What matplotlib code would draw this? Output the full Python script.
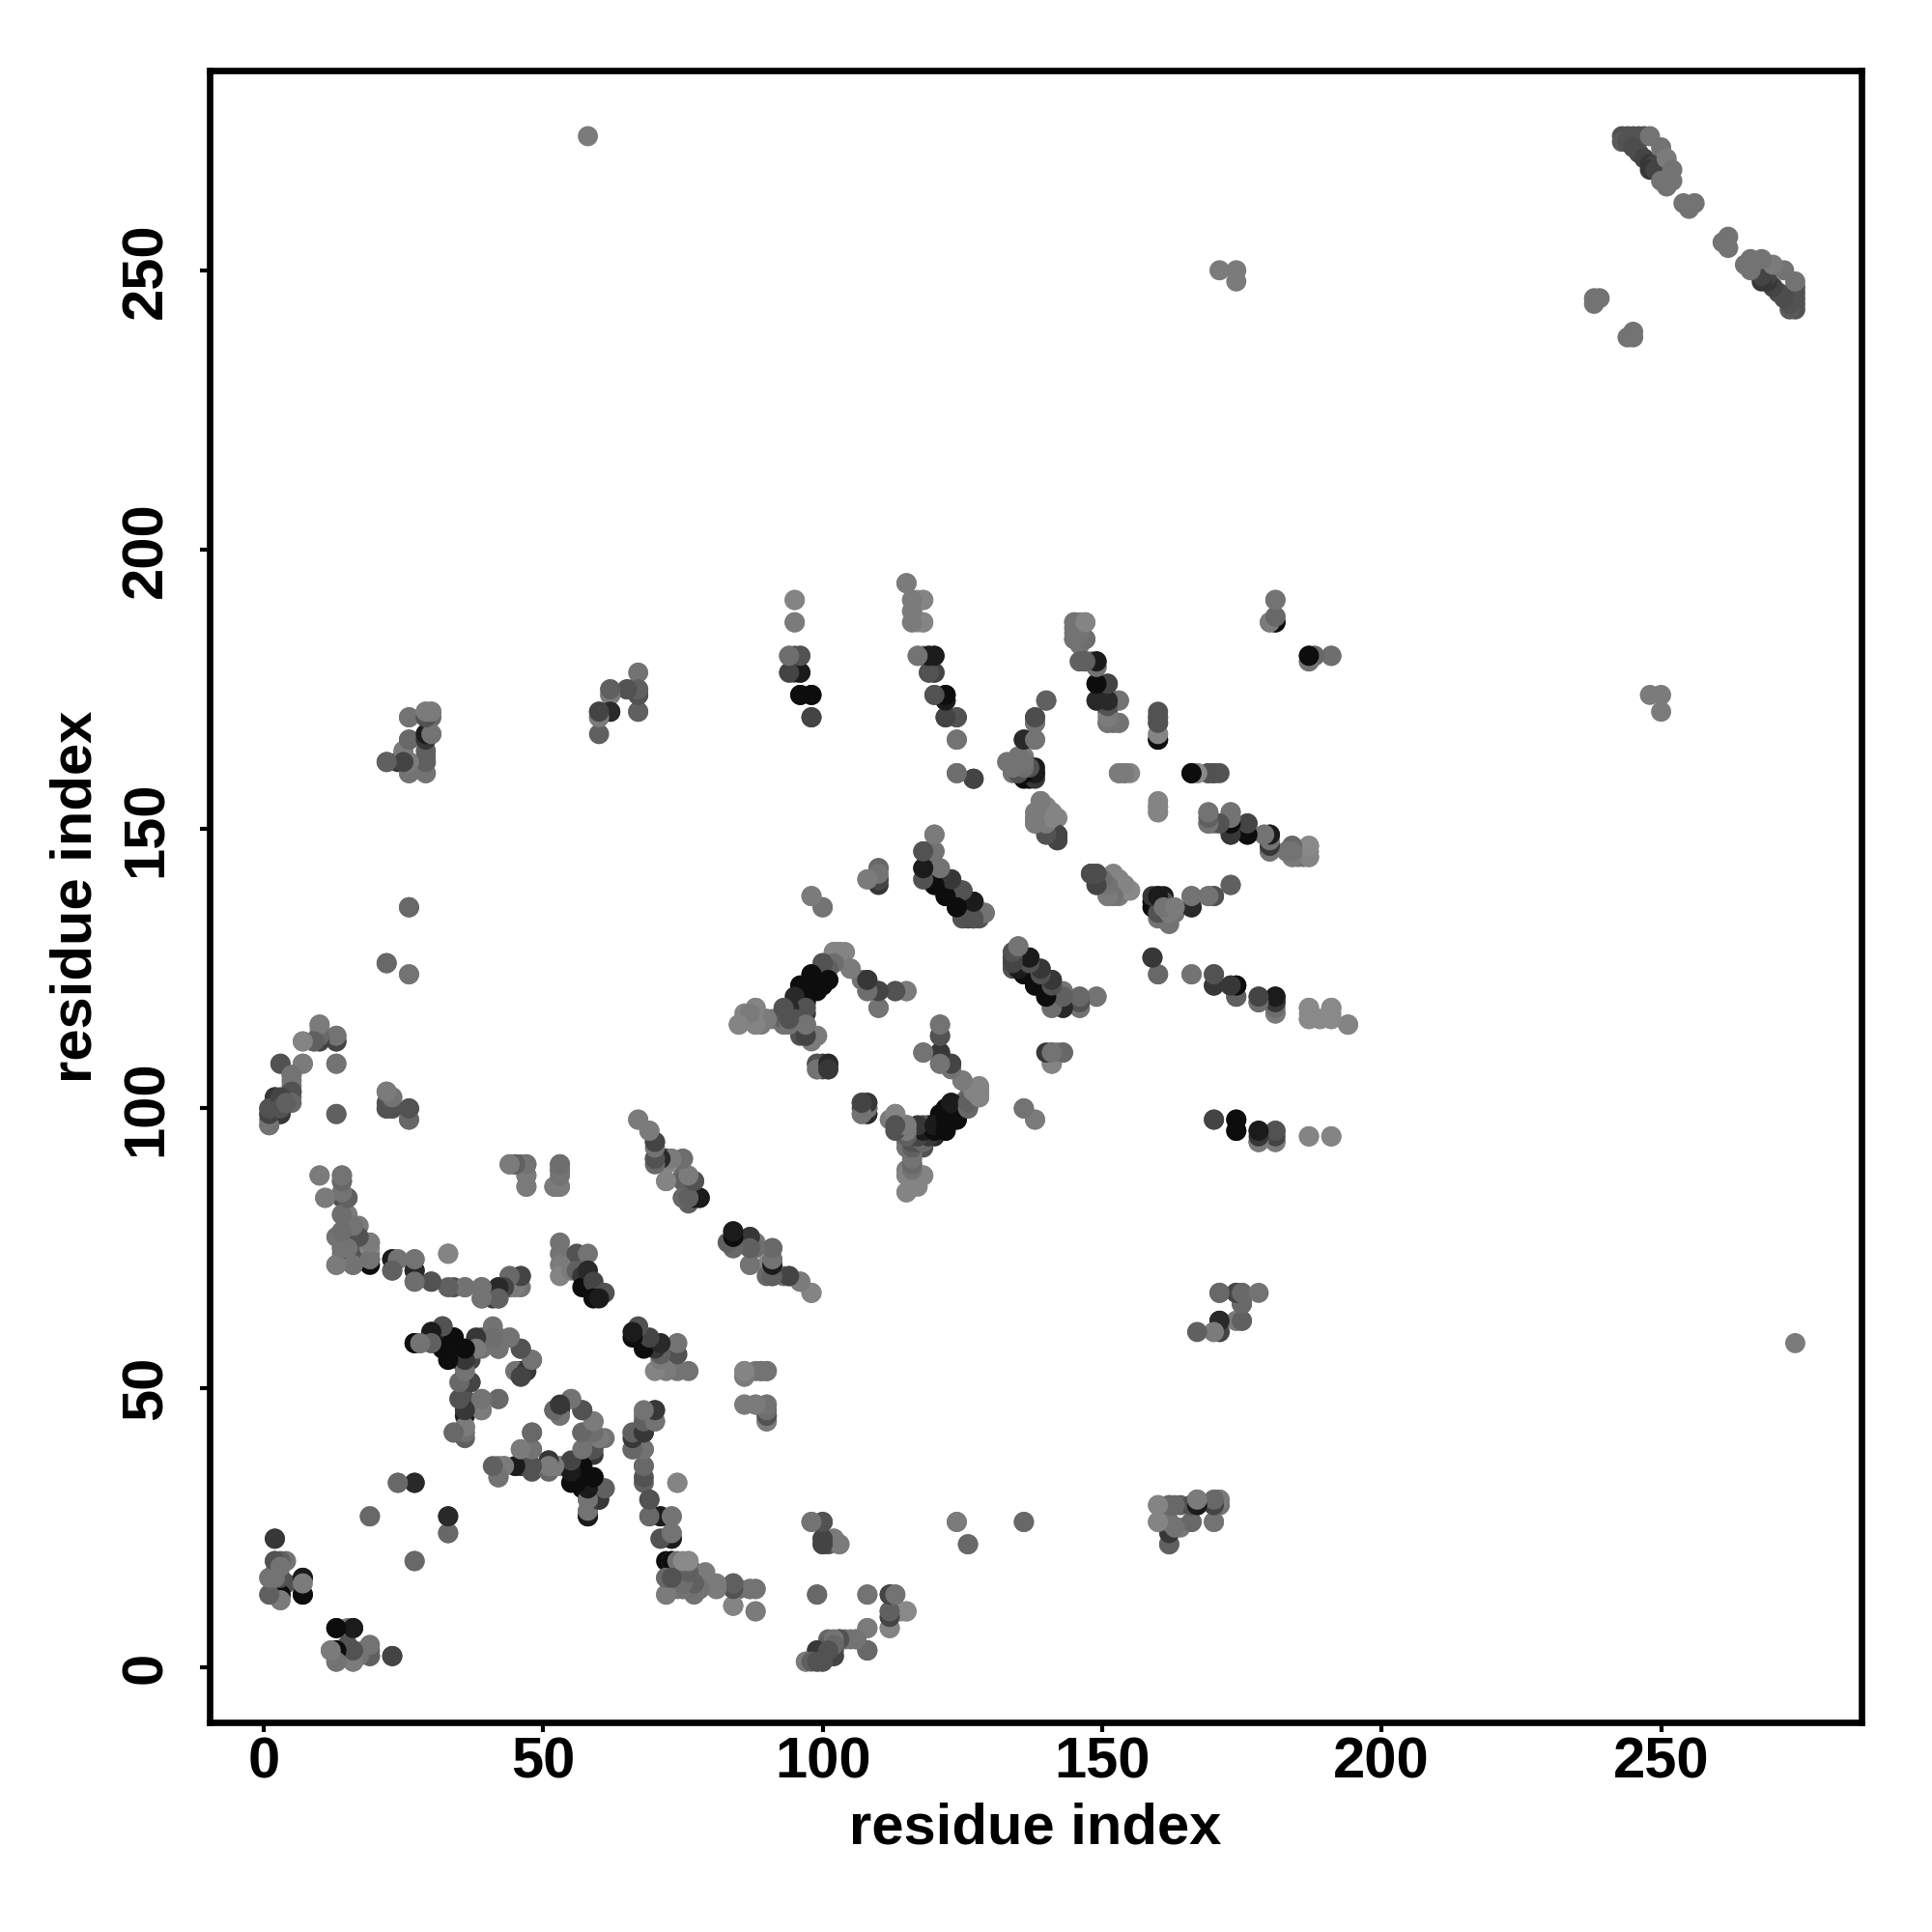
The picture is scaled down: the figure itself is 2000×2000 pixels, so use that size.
import matplotlib
matplotlib.use('Agg')
import matplotlib.pyplot as plt
import numpy as np

# contacts: (residue, residue, grey level)
far_end = [
    (243,274,.3),(244,274,.3),(245,274,.3),(246,274,.3),(247,274,.3),(243,273,.33),(244,273,.3),
    (245,272,.28),(246,271,.28),(247,270,.25),(248,269,.2),(249,269,.25),(248,268,.2),(249,268,.25),
    (248,274,.42),(250,272,.42),(251,270,.45),(252,268,.42),(252,266,.42),(251,265,.42),(250,266,.42),
    (254,262,.42),(256,262,.42),(255,261,.42),(238,244,.42),(238,245,.42),(239,245,.42),
    (171,250,.45),(174,250,.45),(174,248,.45),(58,274,.45),
]
upper_bands = [
    (95,191,.48),(95,187,.48),(115,194,.48),(116,191,.5),(117,191,.5),(118,191,.5),(116,187,.5),(117,187,.5),(118,187,.5),(116,189,.5),
    (94,181,.45),(95,181,.25),(96,181,.3),(94,178,.45),(95,178,.2),(96,178,.1),(96,174,.05),(98,174,.05),(98,170,.25),
    (117,181,.45),(118,181,.4),(119,181,.2),(120,181,.1),(119,178,.4),(120,178,.25),(120,174,.35),(122,174,.05),(122,173,.2),
    (122,170,.2),(124,170,.3),(124,166,.42),(124,160,.38),(127,159,.2),
    (140,173,.35),(138,170,.3),(138,169,.42),(136,166,.15),(138,166,.42),(134,161,.42),(134,160,.42),(136,159,.05),(137,159,.05),
    (135,160,.3),(137,161,.3),(138,159,.2),(138,160,.1),(135,162,.45),(136,161,.42),(136,163,.45),
    (139,155,.5),(140,154,.48),(141,153,.48),(142,152,.48),(138,152,.42),(138,151,.45),(140,151,.42),(141,150,.4),
    (140,149,.25),(142,149,.28),(142,148,.28),
    (145,187,.48),(146,187,.48),(147,187,.5),(145,184,.45),(147,184,.38),(146,184,.42),(146,183,.42),
    (146,180,.42),(147,180,.2),(148,180,.42),(149,180,.1),(149,179,.42),(149,176,.05),(151,176,.25),
    (149,173,.2),(151,173,.05),(152,173,.42),(153,173,.42),(151,171,.3),(151,169,.42),(152,169,.35),(153,169,.42),
    (153,160,.48),(154,160,.48),(155,160,.48),(160,170,.3),(160,169,.3),(160,167,.5),(160,166,.05),
    (166,160,.05),(167,160,.48),(169,160,.3),(170,160,.3),(171,160,.3),(160,154,.45),(160,153,.45),
    (169,153,.42),(169,151,.42),(170,151,.45),(173,153,.42),(173,152,.42),(172,151,.3),(173,151,.15),(173,149,.15),
    (176,151,.25),(176,149,.05),(179,149,.42),(180,149,.1),(180,147,.35),(180,146,.35),
    (184,147,.4),(185,146,.42),(184,145,.42),(185,145,.42),(186,145,.42),(187,145,.42),(187,147,.48),
    (181,191,.4),(181,188,.38),(180,187,.42),(181,187,.05),(187,181,.05),(187,180,.45),(188,181,.38),(191,181,.42),
]
middle_bands = [
    (98,138,.45),(100,136,.42),(108,141,.48),(110,140,.2),(110,143,.38),(110,141,.42),
    (120,149,.42),(118,146,.42),(119,146,.3),(120,146,.38),
    (118,143,.15),(120,142,.05),(121,141,.05),(122,138,.05),(123,139,.05),(124,136,.05),(125,135,.1),(127,135,.1),
    (118,141,.4),(120,143,.35),(120,140,.05),(122,141,.3),(123,141,.2),(124,139,.3),(125,139,.2),(126,137,.3),(127,137,.1),
    (126,134,.25),(127,134,.25),(128,134,.3),(129,135,.42),
    (148,142,.25),(149,142,.25),(149,140,.3),(151,140,.45),(152,141,.48),(153,141,.48),(154,140,.48),(155,139,.45),(151,138,.45),(153,138,.45),
    (160,138,.1),(161,138,.1),(160,136,.05),(160,135,.3),(161,137,.3),(161,136,.4),(162,136,.42),(162,135,.42),(163,135,.42),(162,133,.42),(161,134,.42),
    (166,136,.15),(166,138,.42),(169,138,.42),(170,138,.28),(173,140,.35),
]
loop_bands = [
    (85,115,.48),(87,116,.48),(88,118,.48),(88,115,.48),(86,117,.48),(89,116,.42),(90,116,.38),(91,116,.42),(92,116,.42),
    (93,115,.42),(93,116,.35),(94,116,.3),(94,117,.3),(94,118,.38),(95,119,.2),(95,117,.25),(96,118,.1),(96,120,.05),
    (97,117,.2),(97,120,.1),(98,122,.05),(96,122,.05),(98,124,.05),(100,122,.05),(101,123,.1),(95,115,.35),(96,115,.45),(97,115,.35),
    (96,113,.3),(98,112,.45),(100,126,.38),(101,126,.35),(102,128,.48),(103,128,.48),(104,128,.48),(103,127,.48),
    (105,125,.45),(107,123,.42),(108,123,.25),(110,121,.2),(108,121,.42),(113,121,.3),(115,121,.42),(110,118,.42),
    (97,115,.45),(99,113,.48),(97,113,.3),(99,108,.15),(100,108,.42),(101,108,.2),(99,107,.42),(101,107,.25),
    (107,100,.25),(108,100,.25),(108,99,.3),(107,99,.42),(108,101,.15),(107,101,.2),
    (121,115,.45),(121,113,.3),(118,110,.42),(121,110,.25),(121,108,.4),(123,108,.2),(125,105,.45),
    (127,103,.45),(128,103,.48),(127,102,.45),(128,102,.48),(126,102,.4),(125,101,.35),(126,100,.3),
    (123,101,.05),(124,98,.05),(121,99,.05),(122,96,.05),(119,97,.05),(120,95,.15),(118,97,.3),(118,94,.15),(116,95,.3),(118,93,.3),
    (113,99,.45),(113,97,.25),(115,97,.42),(115,94,.42),(116,94,.3),(116,90,.45),(115,89,.45),(115,88,.48),(118,88,.48),(117,87,.45),(115,85,.48),
    (135,129,.42),(134,127,.3),(134,125,.3),(137,127,.1),(139,125,.3),(136,124,.05),(138,122,.05),(141,123,.2),(140,120,.05),(143,121,.42),
    (141,118,.3),(143,118,.1),(146,120,.42),(146,118,.3),(149,120,.45),(141,110,.25),(143,110,.38),(142,110,.42),(141,108,.45),
    (136,100,.42),(138,98,.45),
    (159,127,.25),(160,124,.4),(166,124,.42),(170,124,.3),(170,122,.25),(173,122,.1),(174,122,.05),(174,120,.3),(178,120,.25),(178,119,.3),
    (181,120,.1),(181,119,.1),(181,117,.42),(187,118,.48),(187,116,.45),(191,118,.48),(191,116,.45),(189,116,.45),(194,115,.45),
    (170,98,.25),(174,98,.05),(174,96,.05),(178,96,.1),(178,94,.25),(181,96,.3),(181,94,.4),(187,95,.45),(191,95,.48),
]
left_column = [
    (26,170,.42),(29,171,.42),(30,171,.45),(29,170,.25),(30,170,.38),(26,166,.38),(29,166,.3),(29,167,.1),(30,167,.45),
    (22,162,.35),(24,162,.2),(25,163,.42),(26,162,.42),(29,163,.38),(29,162,.38),(26,160,.48),(29,160,.48),
    (26,136,.38),(22,126,.38),(26,124,.45),
    (10,115,.5),(10,114,.5),(7,112,.48),(9,112,.25),(10,112,.35),(13,112,.25),(13,113,.42),(3,108,.38),(7,108,.45),(13,108,.42),
    (5,106,.42),(5,105,.42),(5,103,.3),(5,102,.42),(2,102,.25),(4,102,.38),(1,100,.3),(3,99,.2),(1,97,.45),(1,98,.35),(3,101,.3),(1,99,.3),
    (13,99,.38),(22,103,.45),(23,102,.45),(22,100,.25),(23,100,.25),(26,100,.3),(26,98,.42),
    (62,174,.45),(62,175,.35),(65,175,.38),(66,175,.38),(67,174,.25),(67,175,.38),(67,178,.42),
    (60,171,.25),(62,171,.15),(60,170,.45),(60,167,.35),(67,171,.38),
    (171,67,.35),(174,67,.3),(175,67,.35),(175,65,.3),(174,62,.45),(175,62,.35),(171,62,.15),(170,60,.45),(171,60,.25),
]
lower_sheet = [
    (10,88,.45),(14,88,.42),(14,87,.42),(11,84,.48),(14,84,.3),(15,84,.35),(14,81,.45),(15,81,.45),(17,79,.45),
    (14,78,.42),(14,77,.42),(14,76,.4),(14,75,.42),(14,74,.42),(15,77,.35),(16,76,.35),(15,75,.4),(17,76,.35),
    (19,73,.05),(19,74,.42),(19,75,.5),(19,76,.5),(13,72,.45),(16,72,.38),(16,73,.3),
    (23,73,.1),(23,71,.3),(24,73,.42),(27,71,.1),(27,73,.42),(27,69,.38),(30,69,.3),(33,74,.48),
    (34,68,.3),(36,68,.38),(39,68,.42),(39,66,.38),(41,66,.2),(42,66,.35),(42,68,.2),(44,68,.35),(44,70,.42),(46,70,.2),(46,68,.42),
    (44,90,.45),(45,90,.3),(46,90,.4),(47,90,.42),(47,88,.45),(47,86,.45),(53,90,.42),(53,89,.42),(52,86,.45),(53,86,.48),
    (67,98,.48),(69,96,.45),(70,94,.25),(70,91,.35),(72,91,.1),(73,91,.42),(75,91,.38),(72,87,.42),(75,88,.4),(77,87,.2),(75,87,.35),
    (75,84,.38),(76,83,.35),(77,84,.05),(78,84,.1),
    (53,76,.42),(53,74,.42),(53,72,.45),(53,70,.48),(55,71,.45),(56,74,.3),(58,74,.42),(56,71,.35),(57,70,.2),(58,68,.05),(57,68,.05),
    (58,71,.15),(59,69,.25),(61,67,.3),(59,66,.05),(60,66,.1),
    (84,78,.1),(84,75,.38),(84,76,.35),(87,77,.3),(88,76,.45),(91,75,.4),(87,72,.48),(90,72,.48),(91,73,.45),(91,71,.15),(90,70,.38),(91,70,.3),(93,70,.42),(94,70,.25),(96,69,.45),(98,67,.45),
    (86,53,.45),(86,52,.45),(88,53,.42),(89,53,.42),(90,53,.4),(86,47,.45),(88,47,.45),(90,47,.42),(90,45,.35),(90,44,.45),
]
core_loops = [
    (27,58,.1),(28,58,.42),(30,60,.2),(30,58,.42),(32,61,.35),(32,58,.1),(34,59,.05),(33,56,.05),(36,57,.05),(35,55,.1),(37,55,.25),
    (39,59,.3),(39,57,.42),(41,60,.45),(42,59,.4),(42,57,.38),(44,59,.45),(46,57,.3),(48,55,.42),(46,53,.15),(45,53,.42),(46,52,.38),(47,53,.2),
    (36,52,.45),(37,51,.2),(36,51,.45),(36,48,.3),(36,45,.1),(39,48,.42),(39,46,.45),(42,48,.38),(36,43,.45),(34,42,.42),(36,41,.35),
    (52,46,.25),(55,48,.42),(57,46,.3),(59,44,.42),(57,42,.42),(61,41,.42),(59,41,.4),(59,38,.2),(57,38,.45),
    (48,42,.38),(46,39,.45),(48,39,.42),(42,36,.4),(43,36,.45),(46,36,.2),(48,35,.3),(51,37,.25),(51,35,.38),(42,34,.38),
    (53,36,.42),(55,36,.2),(57,36,.05),(55,33,.05),(59,34,.05),(57,32,.05),(61,32,.3),(60,30,.1),(58,30,.35),(58,27,.05),(58,28,.42),
    (68,45,.45),(70,46,.25),(70,44,.38),(68,43,.25),(68,42,.15),(66,42,.35),(66,39,.42),(68,39,.42),(68,36,.42),(68,33,.35),
    (69,30,.3),(71,27,.15),(73,27,.42),(69,27,.4),(74,33,.48),(73,23,.1),(73,24,.42),(71,23,.35),
    (24,33,.38),(27,33,.15),(19,27,.38),(33,27,.15),(33,24,.38),(27,19,.38),
    (2,23,.25),(2,19,.35),(4,19,.42),(2,17,.42),(1,16,.45),(3,16,.3),(4,15,.3),(7,16,.1),(7,13,.05),(3,13,.05),(1,13,.42),(3,12,.45),
    (13,7,.05),(16,7,.1),(15,7,.45),(13,3,.05),(12,3,.45),(13,1,.35),(16,1,.42),(16,3,.3),(19,3,.35),(19,2,.3),(18,3,.42),(16,2,.42),(23,2,.2),
    (72,19,.05),(73,19,.42),(76,19,.45),(72,16,.42),(72,13,.45),(77,17,.3),(79,16,.42),(81,14,.4),(75,15,.42),(77,13,.42),(75,14,.42),(78,14,.4),
    (84,15,.35),(85,14,.42),(87,14,.38),(88,14,.42),(84,11,.45),(88,10,.45),
]
outer_contacts = [
    (160,29,.42),(162,29,.35),(164,29,.35),(160,26,.42),(162,26,.45),(164,25,.45),(162,25,.25),(162,22,.35),
    (166,26,.38),(170,26,.42),(166,29,.2),(167,29,.1),(167,30,.42),(170,29,.3),(171,30,.45),(171,29,.45),
    (98,26,.38),(100,26,.3),(100,23,.3),(100,22,.3),(101,22,.3),(102,23,.42),(103,22,.45),
    (124,26,.42),(126,22,.38),(136,26,.38),
    (99,13,.35),(108,13,.42),(112,13,.25),(113,13,.42),(112,10,.25),(113,10,.38),(115,10,.45),(112,9,.35),(112,7,.48),(108,7,.45),(108,3,.3),
    (106,5,.42),(104,5,.42),(103,5,.3),(101,5,.38),(102,2,.2),(99,3,.2),(97,1,.42),(99,1,.25),(100,1,.3),(102,3,.25),(100,3,.3),(101,4,.35),
]
tick_values = [0, 50, 100, 150, 200, 250]


def main():
    contacts = far_end + upper_bands + middle_bands + loop_bands + left_column + lower_sheet + core_loops + outer_contacts
    data = np.array(contacts)
    xs = np.concatenate([data[:, 0], data[:, 1]])
    ys = np.concatenate([data[:, 1], data[:, 0]])
    greys = np.concatenate([data[:, 2], data[:, 2]])

    plt.rcParams['font.family'] = ['Liberation Sans', 'DejaVu Sans']
    fig = plt.figure(figsize=(20, 20), dpi=100)
    ax = fig.add_axes([170 / 1568, 1 - 1398 / 1568, (1511 - 170) / 1568, (1398 - 57) / 1568])
    ax.scatter(xs, ys, s=225, c=greys, cmap='gray', vmin=0, vmax=0.93, linewidths=0)
    ax.set_xlim(-9.7, 285.9)
    ax.set_ylim(-9.9, 285.8)
    ax.set_xticks(tick_values)
    ax.set_yticks(tick_values)
    ax.tick_params(length=7, width=3, labelsize=43)
    ax.tick_params(axis='x', pad=3)
    ax.tick_params(axis='y', pad=20)
    for label in ax.get_xticklabels():
        label.set_fontweight('bold')
    for label in ax.get_yticklabels():
        label.set_fontweight('bold')
        label.set_rotation(90)
        label.set_va('center')
    for spine in ax.spines.values():
        spine.set_linewidth(4.8)
    ax.set_xlabel('residue index', fontsize=43, fontweight='bold', labelpad=10)
    ax.set_ylabel('residue index', fontsize=43, fontweight='bold', labelpad=13)
    fig.savefig('out.png', dpi=100)


if __name__ == '__main__':
    main()
